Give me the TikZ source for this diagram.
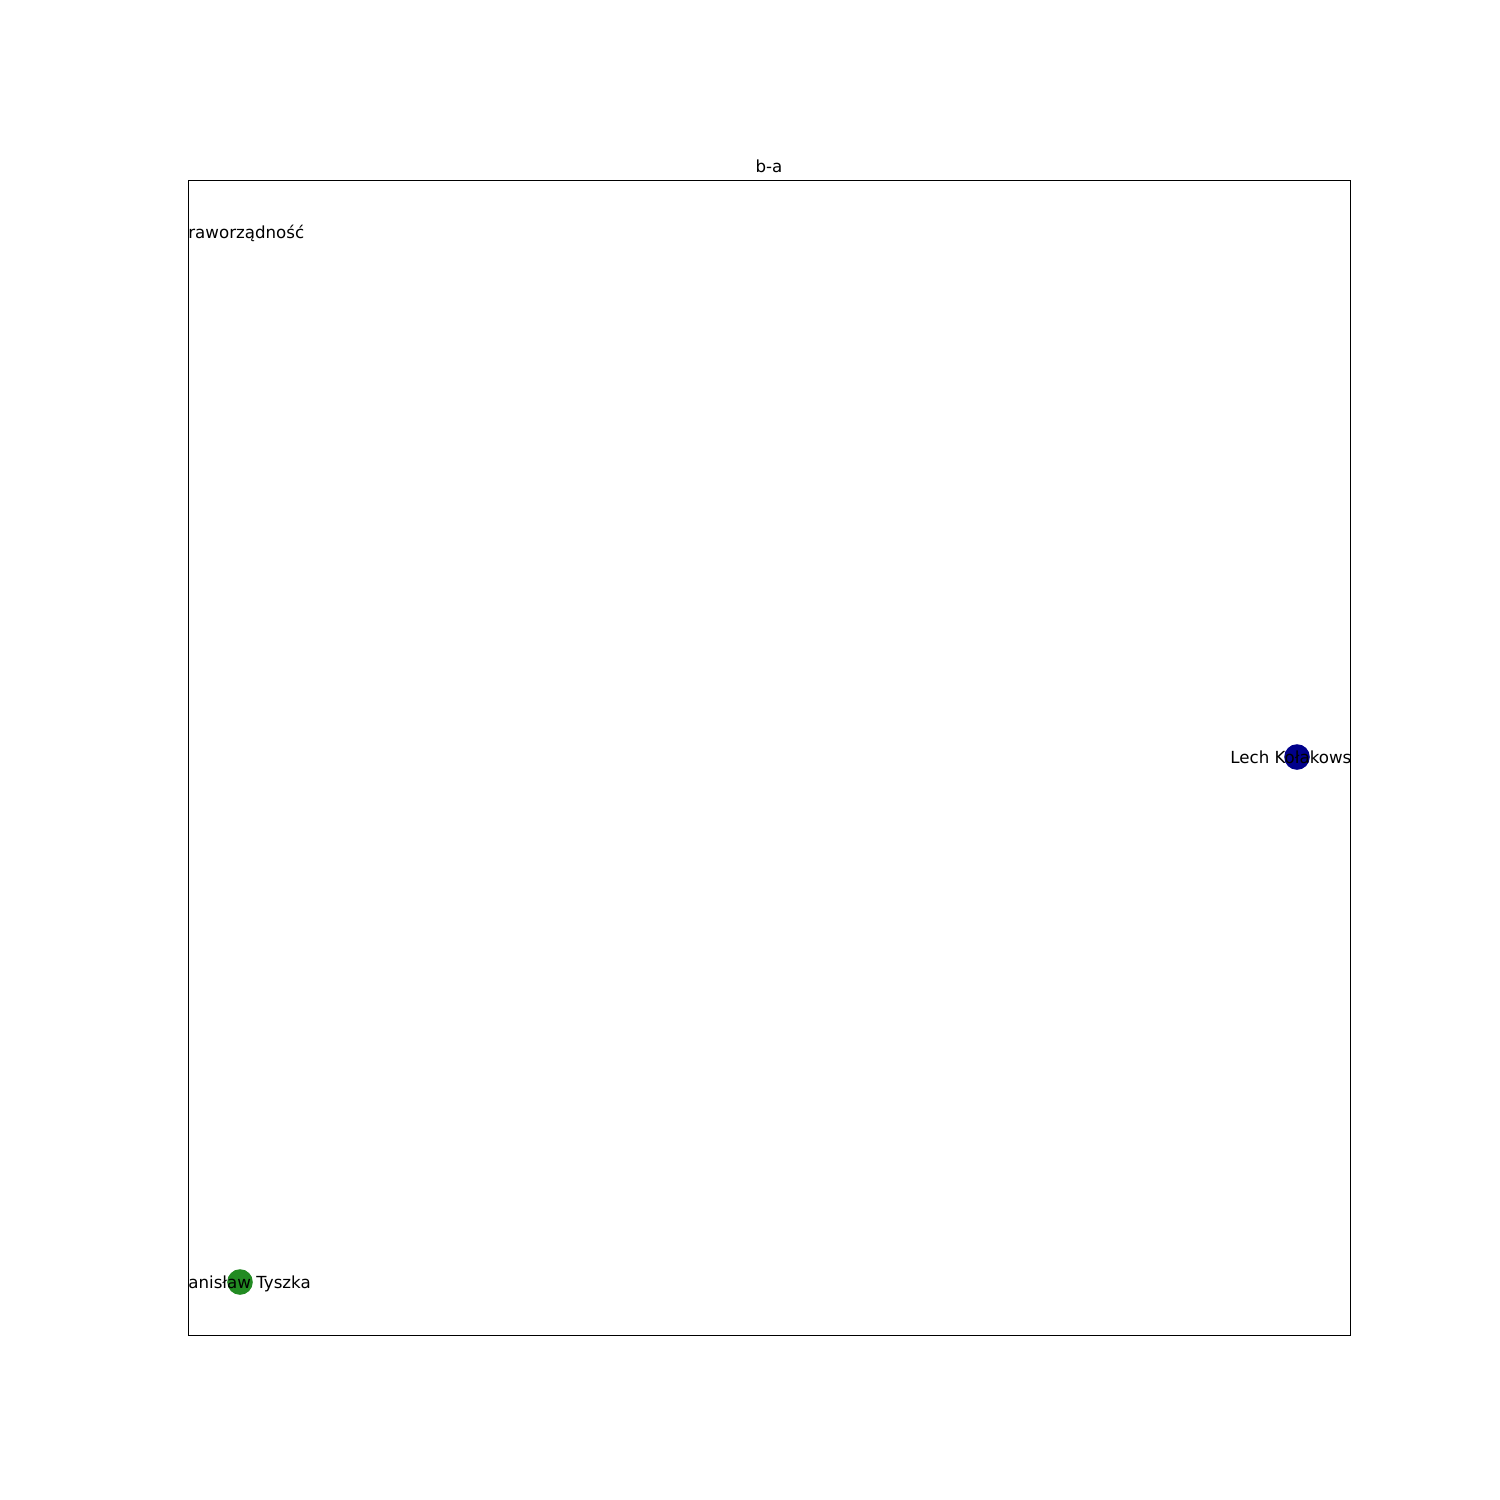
\documentclass[tikz,border=0pt]{standalone}
\usepackage{fontspec}
\setmainfont{DejaVu Sans}
\begin{document}
\begin{tikzpicture}[x=0.5pt,y=-0.5pt,
  dot/.style={circle,inner sep=0pt,minimum size=12.8pt,draw=none},
  lbl/.style={inner sep=0pt,anchor=base,font=\fontsize{8.33pt}{10pt}\selectfont},
  frame/.style={draw=black,line width=0.45pt}]
\useasboundingbox (0,0) rectangle (1500,1500);
\begin{scope}
\clip (188,180) rectangle (1350,1335);
\node[dot,fill=white] (p) at (240,232) {};
\node[dot,fill={rgb,255:red,0;green,0;blue,139}] (l) at (1297,757) {};
\node[dot,fill={rgb,255:red,34;green,139;blue,34}] (s) at (240,1282) {};
\node[lbl] (pt) at (241,238) {praworządność};
\node[lbl] (lt) at (1298,763) {Lech Kołakowski};
\node[lbl] (st) at (241,1288) {Stanisław Tyszka};
\end{scope}
\draw[frame] (188,180) rectangle (1350,1335);
\node[lbl] (title) at (769,172) {b-a};
\end{tikzpicture}
\end{document}
